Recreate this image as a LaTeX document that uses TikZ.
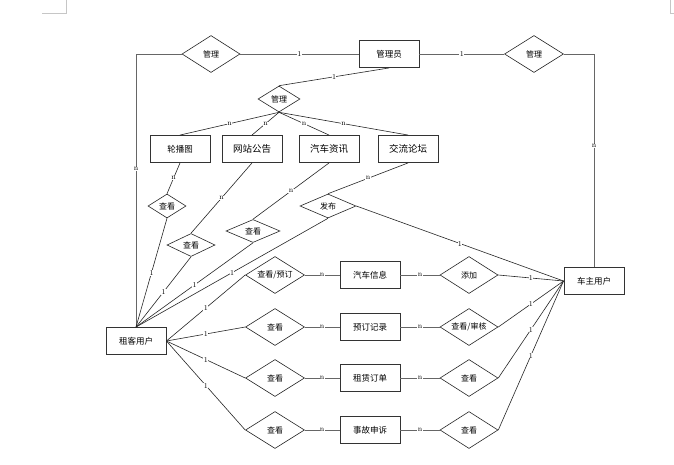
\documentclass[tikz,border=0pt]{standalone}
\usepackage{fontspec}
\newfontfamily\cjk{Noto Sans CJK SC}
\usetikzlibrary{shapes.geometric}
\tikzset{
  ent/.style={draw=black!80, line width=0.9pt, rectangle, minimum width=60pt, minimum height=27pt, inner sep=0pt, font=\cjk\fontsize{8.5}{9}\selectfont},
  entb/.style={ent, font=\cjk\fontsize{9.5}{10}\selectfont},
  rel/.style={draw=black!85, line width=0.6pt, diamond, aspect=1.8, inner sep=0pt, font=\cjk\fontsize{8}{9}\selectfont},
  con/.style={draw=black!85, line width=0.6pt},
  cong/.style={draw=black!60, line width=0.9pt},
  lbl/.style={fill=white, inner sep=0.4pt, font=\fontsize{7.5}{7.5}\selectfont, text=black}
}
\begin{document}
\begin{tikzpicture}[x=1pt, y=-1pt]
\useasboundingbox (0,0) rectangle (674,464);
\fill[white] (0,0) rectangle (674,464);
% page corner marks
\draw[gray!45, line width=0.4pt] (42,13) -- (66,13) -- (66,0);
\draw[gray!45, line width=0.4pt] (674,13) -- (670,13) -- (670,0);

% top row
\node[rel, minimum width=58pt, minimum height=37pt] (m1) at (211,54) {管理};
\node[ent] (gly) at (389,54) {管理员};
\node[rel, minimum width=59pt, minimum height=37pt] (m2) at (534,54) {管理};
\node[rel, minimum width=42pt, minimum height=26pt] (m3) at (279,99) {管理};

% content entities
\node[ent, minimum width=60pt] (lbt) at (180,149) {轮播图};
\node[entb] (wzgg) at (252,149) {网站公告};
\node[entb] (qczx) at (329,149) {汽车资讯};
\node[entb] (jllt) at (408,149) {交流论坛};

% view / publish diamonds
\node[rel, minimum width=38pt, minimum height=24pt] (ck1) at (167,206) {查看};
\node[rel, minimum width=48pt, minimum height=23pt] (ck2) at (191,245) {查看};
\node[rel, minimum width=54pt, minimum height=23pt] (ck3) at (253,231) {查看};
\node[rel, minimum width=56pt, minimum height=24pt] (fb) at (328,206) {发布};

% users
\node[ent] (zk) at (136,341) {租客用户};
\node[ent] (cz) at (594,281) {车主用户};

% rows
\node[rel, minimum width=59pt, minimum height=37pt] (r1a) at (275,275) {查看/预订};
\node[ent] (qcxx) at (370,275) {汽车信息};
\node[rel, minimum width=58pt, minimum height=37pt] (r1b) at (469,275) {添加};

\node[rel, minimum width=59pt, minimum height=37pt] (r2a) at (275,327) {查看};
\node[ent] (ydjl) at (370,327) {预订记录};
\node[rel, minimum width=58pt, minimum height=37pt] (r2b) at (469,327) {查看/审核};

\node[rel, minimum width=59pt, minimum height=37pt] (r3a) at (275,378) {查看};
\node[ent] (zldd) at (370,378) {租赁订单};
\node[rel, minimum width=58pt, minimum height=37pt] (r3b) at (469,378) {查看};

\node[rel, minimum width=59pt, minimum height=37pt] (r4a) at (275,430) {查看};
\node[ent] (sgss) at (370,430) {事故申诉};
\node[rel, minimum width=58pt, minimum height=37pt] (r4b) at (469,430) {查看};

% top connectors
\draw[cong] (m1.west) -| node[lbl, pos=0.71] {n} (zk.north);
\draw[cong] (m1.east) -- node[lbl] {1} (gly.west);
\draw[cong] (gly.east) -- node[lbl] {1} (m2.west);
\draw[cong] (m2.east) -| node[lbl, pos=0.715] {n} (cz.north);
\draw[con] (gly.south) -- node[lbl] {1} (m3.north);
\draw[con] (m3.south) -- node[lbl] {n} (lbt.north);
\draw[con] (m3.south) -- node[lbl] {n} (wzgg.north);
\draw[con] (m3.south) -- node[lbl] {n} (qczx.north);
\draw[con] (m3.south) -- node[lbl] {n} (jllt.north);

% view / publish connectors
\draw[con] (lbt.south) -- node[lbl] {n} (ck1.north);
\draw[con] (ck1.south) -- node[lbl] {1} (zk.north);
\draw[con] (wzgg.south) -- node[lbl] {n} (ck2.north);
\draw[con] (ck2.south) -- node[lbl] {1} (zk.north);
\draw[con] (qczx.south) -- node[lbl] {n} (ck3.north);
\draw[con] (ck3.south) -- node[lbl] {1} (zk.north);
\draw[con] (jllt.south) -- node[lbl] {n} (fb.north);
\draw[con] (fb.south) -- node[lbl] {1} (zk.north);
\draw[con] (fb.east) -- node[lbl] {1} (cz.west);

% rows connectors
\foreach \a/\e/\b in {r1a/qcxx/r1b, r2a/ydjl/r2b, r3a/zldd/r3b, r4a/sgss/r4b}{
  \draw[con] (zk.east) -- node[lbl] {1} (\a.west);
  \draw[cong] (\a.east) -- node[lbl] {n} (\e.west);
  \draw[cong] (\e.east) -- node[lbl] {n} (\b.west);
  \draw[con] (\b.east) -- node[lbl] {1} (cz.west);
}
\end{tikzpicture}
\end{document}
